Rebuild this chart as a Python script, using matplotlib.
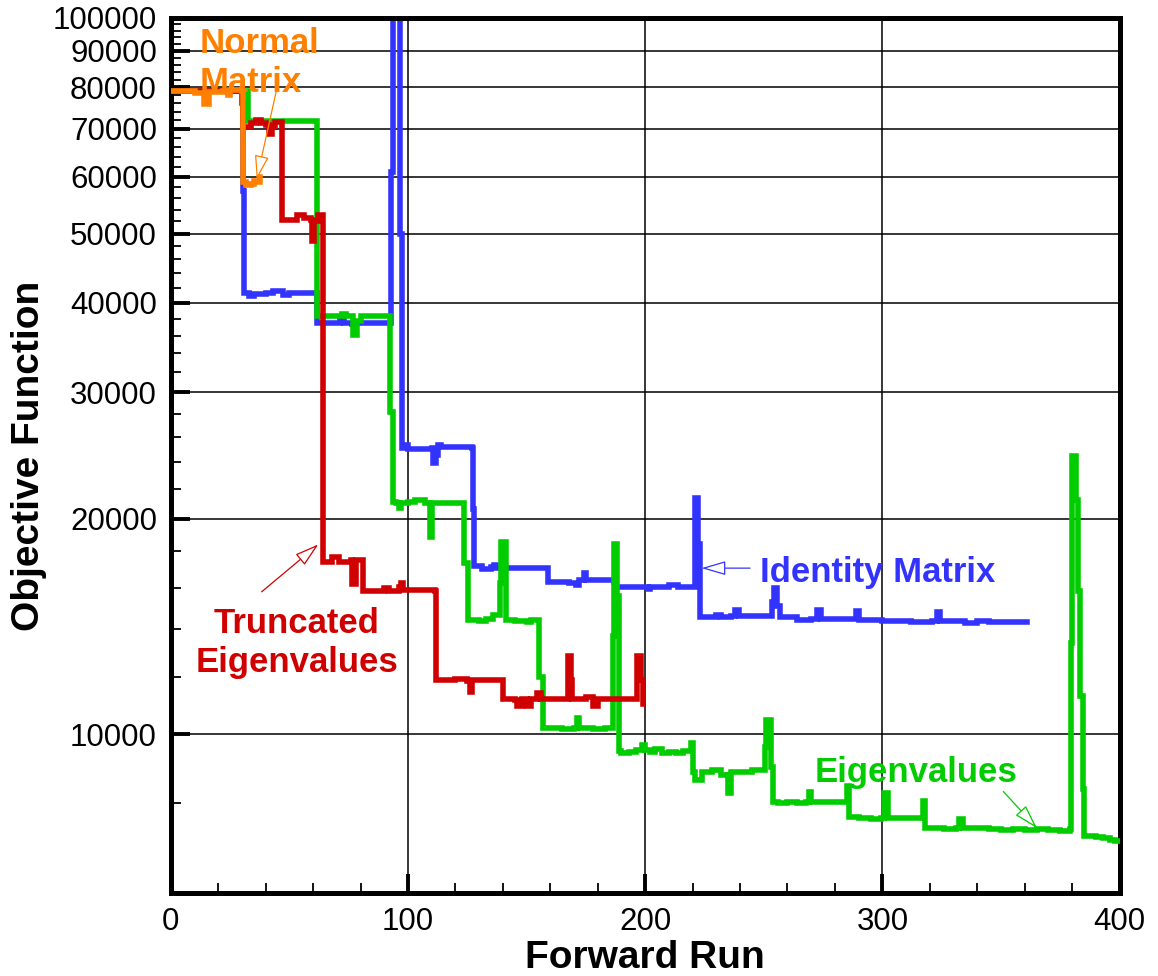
import matplotlib
matplotlib.use('Agg')
import matplotlib.pyplot as plt
from matplotlib.ticker import FixedLocator, FuncFormatter, NullFormatter

plt.rcParams['font.family'] = ['Liberation Sans', 'DejaVu Sans']

# Objective function history per forward run, one list pair per inversion method
normal_x = [0, 8, 10, 13, 14, 15, 16, 22, 24, 25, 30, 30.5, 31.5, 34, 35, 37, 37.8]
normal_y = [79000, 79000, 78500, 78500, 75800, 75800, 78800, 79000, 78000, 79200,
            79000, 59000, 58500, 58600, 59200, 59000, 60000]

trunc_x = [0, 29.8, 30, 30.5, 33, 34, 36, 38, 40, 41.5, 42.5, 44, 46.5, 47, 52, 53, 56,
           59, 59.5, 60.5, 62, 63.5, 64, 67, 68, 71, 76, 76.5, 77.5, 78, 80.5, 81, 88,
           90, 92, 96, 97, 98, 111.5, 112, 120, 125, 126, 127, 139.5, 140, 145, 146,
           148, 150, 152, 154.5, 156, 167, 167.3, 167.6, 168.4, 168.8, 169.2, 175, 178,
           180, 196.2, 196.5, 197.5, 198.2, 199]
trunc_y = [79000, 79000, 76000, 70400, 70400, 71400, 72000, 71300, 70800, 68800, 70600,
           71500, 71500, 52300, 52300, 53000, 52500, 52300, 48800, 52000, 53000, 53000,
           17400, 17400, 17650, 17400, 17500, 16200, 16200, 17500, 17500, 15850, 15850,
           16000, 15850, 16050, 16250, 15900, 15850, 11900, 11950, 11850, 11450, 11900,
           11900, 11200, 11150, 10950, 11200, 10930, 11200, 11400, 11200, 11200, 12000,
           12870, 12870, 11900, 11200, 11250, 10950, 11200, 11200, 12870, 12870, 11900,
           11000]

ident_x = [0, 30.2, 30.5, 31, 33, 35, 40, 43, 46, 47.5, 50, 61.5, 61.8, 62.5, 70, 71.5,
           73, 76.5, 78, 92.6, 92.8, 93.3, 93.5, 96.6, 96.8, 97.2, 97.5, 99, 100, 110,
           110.5, 112, 112.5, 114, 127, 127.2, 127.8, 128, 131, 135, 136.3, 137, 158.5,
           159, 165, 168, 170.8, 172, 174.3, 175, 186.8, 187.2, 200, 201, 202, 209, 210,
           214, 220.5, 220.9, 221.2, 221.9, 222.2, 222.7, 223, 228, 230, 232, 236, 238,
           239.5, 252, 253.5, 254.5, 255.5, 257, 262, 264, 270, 272.5, 274, 287, 289,
           290, 300, 310, 312, 321, 323, 324.5, 330, 335, 340, 345, 350, 361]
ident_y = [79000, 79000, 57300, 41300, 40900, 41200, 41300, 41600, 41500, 41000, 41300,
           41300, 37500, 37500, 37500, 38200, 37500, 37400, 37500, 37500, 61000, 61000,
           100000, 100000, 50000, 50000, 25080, 25300, 25000, 25080, 23900, 24500, 25300,
           25200, 25080, 20600, 20600, 17150, 17000, 17100, 17230, 17050, 17050, 16330,
           16330, 16250, 16130, 16400, 16780, 16400, 16330, 16060, 16060, 15920, 16060,
           16060, 16150, 16060, 16060, 18400, 21370, 21370, 18400, 18400, 14590, 14550,
           14650, 14550, 14600, 14900, 14600, 14600, 15300, 16000, 15100, 14550, 14550,
           14450, 14500, 14900, 14500, 14500, 14850, 14450, 14400, 14400, 14350, 14400,
           14800, 14400, 14380, 14300, 14380, 14350, 14360, 14360]

eig_x = [0, 32, 32.5, 61.3, 61.8, 62.5, 70, 72, 74, 76.5, 77, 78, 78.5, 80, 92.3, 92.6,
         93.6, 93.6, 95, 96, 97, 100, 103, 107, 109, 109.3, 110, 110.3, 123.6, 123.6,
         125.3, 125.3, 130, 133, 136, 138.4, 138.6, 139.2, 139.4, 140.8, 141.2, 145, 150,
         152, 155.3, 155.3, 156.8, 156.8, 160, 165, 170, 171.2, 172, 178, 183, 186.3,
         186.3, 187, 187, 188.3, 188.3, 189, 189, 190, 193, 196, 198.5, 200, 202, 204,
         207, 210, 213, 216, 219, 219.3, 219.8, 220, 221, 222.5, 224, 228, 232, 234.8,
         235, 236, 236.3, 240, 245, 250.3, 250.5, 251, 252.5, 253, 253.7, 256, 260, 264,
         268, 269, 270, 278, 284.5, 285, 285.8, 286, 290, 295, 299.5, 300.5, 301.5, 302.5,
         310, 316.5, 317, 317.6, 318, 322, 326, 331, 332.5, 334, 340, 345, 350, 355, 360,
         365, 370, 375, 379.2, 379.4, 379.8, 381, 381.5, 382.5, 383.5, 384.4, 385.2, 387,
         390, 393, 396, 398, 400]
eig_y = [79000, 79000, 71700, 71700, 38300, 38300, 38300, 38600, 38300, 38300, 36100,
         36100, 37800, 38300, 38300, 28200, 28200, 21100, 21000, 20680, 21000, 21100,
         21200, 21000, 21000, 18820, 18820, 21000, 21000, 17350, 17350, 14440, 14400,
         14500, 14650, 14650, 16270, 16270, 18570, 18570, 14440, 14380, 14350, 14420,
         14420, 12000, 12000, 10190, 10190, 10150, 10200, 10530, 10200, 10180, 10200,
         10250, 13700, 13700, 18400, 18400, 15600, 15600, 9456, 9400, 9450, 9500, 9650,
         9500, 9450, 9520, 9420, 9450, 9400, 9460, 9456, 9720, 9720, 8840, 8630, 8630,
         8850, 8900, 8780, 8850, 8270, 8270, 8850, 8850, 8900, 8900, 9600, 10470, 10470,
         9000, 8030, 8000, 8050, 8000, 8030, 8300, 8050, 8030, 8030, 8450, 8450, 7670,
         7640, 7620, 7640, 8270, 8270, 7640, 7640, 7640, 8060, 8060, 7393, 7400, 7380,
         7400, 7600, 7400, 7400, 7360, 7350, 7380, 7340, 7380, 7350, 7330, 7380, 13400,
         24420, 24420, 21250, 15840, 11290, 8370, 7196, 7200, 7180, 7150, 7120, 7080,
         7100]

y_major = [10000, 20000, 30000, 40000, 50000, 60000, 70000, 80000, 90000, 100000]
y_minor = [6000, 8000] + [v for v in range(12000, 100000, 2000) if v % 10000]
x_major = [0, 100, 200, 300, 400]
x_minor = [v for v in range(20, 400, 20) if v % 100]

blue = '#3333ff'
red = '#d00000'
green = '#00cc00'
orange = '#ff8000'

fig = plt.figure(figsize=(11.58, 9.76), dpi=100)
ax = fig.add_axes([0.1475, 0.0851, 0.8193, 0.8965])

lw = 4.0
line = dict(lw=lw, drawstyle='steps-post', solid_joinstyle='miter')
ax.plot(ident_x, ident_y, color=blue, zorder=2, **line)
ax.plot(eig_x, eig_y, color=green, zorder=3, **line)
ax.plot(trunc_x, trunc_y, color=red, zorder=4, **line)
ax.plot(normal_x, normal_y, color=orange, zorder=5, **line)

ax.set_yscale('log')
ax.set_xlim(0, 400)
ax.set_ylim(6000, 100000)
ax.yaxis.set_major_locator(FixedLocator(y_major))
ax.yaxis.set_minor_locator(FixedLocator(y_minor))
ax.yaxis.set_major_formatter(FuncFormatter(lambda v, _: f'{int(round(v))}'))
ax.yaxis.set_minor_formatter(NullFormatter())
ax.xaxis.set_major_locator(FixedLocator(x_major))
ax.xaxis.set_minor_locator(FixedLocator(x_minor))

ax.tick_params(which='major', direction='in', length=14, width=2.8,
               labelsize=22.5, pad=10, top=False, right=False)
ax.tick_params(which='minor', direction='in', length=7.5, width=1.3,
               top=False, right=False)
ax.grid(True, which='major', color='black', lw=1.1)
for s in ax.spines.values():
    s.set_linewidth(3.6)

ax.set_xlabel('Forward Run', fontsize=28, fontweight='bold', labelpad=2)
ax.set_ylabel('Objective Function', fontsize=28, fontweight='bold', labelpad=4)

# method labels with open-headed pointer arrows
def pointer(tail, tip, color):
    ax.annotate('', xy=tip, xytext=tail,
                arrowprops=dict(arrowstyle='-|>,head_length=0.75,head_width=0.22',
                                color=color, fc='white', lw=0.9,
                                shrinkA=0, shrinkB=0, mutation_scale=20),
                zorder=6)

txt = dict(fontsize=25, fontweight='bold', linespacing=1.25, zorder=7)
ax.text(12.3, 86500, 'Normal\nMatrix', color=orange, ha='left', va='center', **txt)
pointer((44.6, 79400), (36.2, 59500), orange)

ax.text(53.2, 13400, 'Truncated\nEigenvalues', color=red, ha='center', va='center', **txt)
pointer((38.3, 15800), (62.2, 18400), red)

ax.text(248.5, 16800, 'Identity Matrix', color=blue, ha='left', va='center', **txt)
pointer((244.2, 17050), (223.8, 17050), blue)

ax.text(271.6, 8830, 'Eigenvalues', color=green, ha='left', va='center', **txt)
pointer((351, 8315), (365.1, 7393), green)

fig.savefig('out.png', dpi=100)
